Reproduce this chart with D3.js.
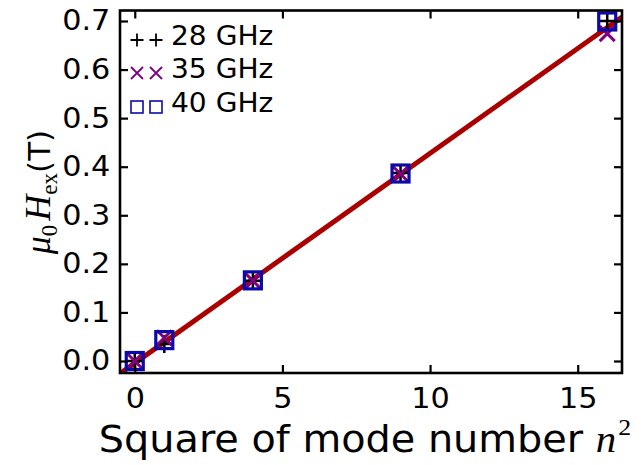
<!DOCTYPE html>
<html><head><meta charset="utf-8">
<script src="https://cdn.jsdelivr.net/npm/d3@7"></script>
<style>body{margin:0;background:#fff}svg{display:block}</style>
</head><body>
<svg id="c" width="643" height="465"></svg>
<script>
const nSquared = [0, 1, 4, 9, 16];
const h28 = [0.0, 0.035, 0.165, 0.387, 0.700];
const h35 = [0.0, 0.048, 0.165, 0.385, 0.674];
const h40 = [0.0, 0.043, 0.166, 0.386, 0.699];
const fitSlope = [0.0432];
const fitIntercept = [-0.0045];
const xTicks = [0, 5, 10, 15];
const yTicks = [0.0, 0.1, 0.2, 0.3, 0.4, 0.5, 0.6, 0.7];
const seriesNames = ["28 GHz", "35 GHz", "40 GHz"];

const svg = d3.select("#c");
const L = 120, R = 622, T = 10.5, B = 373;
const x = d3.scaleLinear().domain([-0.5, 16.5]).range([L, R]);
const y = d3.scaleLinear().domain([-0.0247, 0.7216]).range([B, T]);
const font = "DejaVu Sans";

// fit line
svg.append("clipPath").attr("id","cl").append("rect")
  .attr("x",L).attr("y",T).attr("width",R-L).attr("height",B-T);
const xd = x.domain();
svg.append("line").attr("clip-path","url(#cl)")
  .attr("x1", x(xd[0])).attr("y1", y(fitSlope[0]*xd[0]+fitIntercept[0]))
  .attr("x2", x(xd[1])).attr("y2", y(fitSlope[0]*xd[1]+fitIntercept[0]))
  .attr("stroke","#aa0000").attr("stroke-width",5);

function plus(g, cx, cy, s, col, w){
  g.append("path").attr("d",`M${cx-s/2},${cy}H${cx+s/2}M${cx},${cy-s/2}V${cy+s/2}`)
   .attr("stroke",col).attr("stroke-width",w).attr("fill","none");
}
function cross(g, cx, cy, s, col, w){
  g.append("path").attr("d",`M${cx-s/2},${cy-s/2}L${cx+s/2},${cy+s/2}M${cx-s/2},${cy+s/2}L${cx+s/2},${cy-s/2}`)
   .attr("stroke",col).attr("stroke-width",w).attr("fill","none");
}
function square(g, cx, cy, s, col, w){
  g.append("rect").attr("x",cx-s/2).attr("y",cy-s/2).attr("width",s).attr("height",s)
   .attr("stroke",col).attr("stroke-width",w).attr("fill","none");
}
const cols = ["#000000", "#800080", "#0a0aaa"];
const gm = svg.append("g");
nSquared.forEach((n,i)=> plus(gm, x(n), y(h28[i]), 18, cols[0], 2.5));
nSquared.forEach((n,i)=> cross(gm, x(n), y(h35[i]), 15, cols[1], 3));
nSquared.forEach((n,i)=> square(gm, x(n), y(h40[i]), 17, cols[2], 3.2));

// axes frame
const ga = svg.append("g");
ga.append("g").attr("transform",`translate(0,${B})`)
  .call(d3.axisBottom(x).tickValues(xTicks).tickSizeInner(-8).tickSizeOuter(0).tickPadding(15).tickFormat(d3.format("d")));
ga.append("g").attr("transform",`translate(0,${T})`)
  .call(d3.axisTop(x).tickValues(xTicks).tickSizeInner(-8).tickSizeOuter(0).tickFormat(""));
ga.append("g").attr("transform",`translate(${L},0)`)
  .call(d3.axisLeft(y).tickValues(yTicks).tickSizeInner(-8).tickSizeOuter(0).tickPadding(9).tickFormat(d3.format(".1f")));
ga.append("g").attr("transform",`translate(${R},0)`)
  .call(d3.axisRight(y).tickValues(yTicks).tickSizeInner(-8).tickSizeOuter(0).tickFormat(""));
ga.selectAll(".domain").remove();
ga.selectAll(".tick line").attr("stroke","#000").attr("stroke-width",2.2);
ga.selectAll("text").attr("font-family",font).attr("font-size",28).attr("fill","#000")
  .attr("transform","scale(1.08,1)");
svg.append("rect").attr("x",L).attr("y",T).attr("width",R-L).attr("height",B-T)
  .attr("fill","none").attr("stroke","#000").attr("stroke-width",2.6);

// legend
const lg = svg.append("g");
const ly = [40, 73, 107];
const lx = [137, 156];
lx.forEach(px=>plus(lg, px, ly[0], 13, cols[0], 1.8));
lx.forEach(px=>cross(lg, px, ly[1], 12, cols[1], 1.8));
lx.forEach(px=>square(lg, px, ly[2], 12, cols[2], 1.6));
seriesNames.forEach((s,i)=> lg.append("text").attr("transform",`translate(171,${ly[i]+5}) scale(1.06,1)`)
  .attr("font-family",font).attr("font-size",26.5).text(s));

// x label
const xl = svg.append("text").attr("transform","translate(365,452) scale(1.075,1)").attr("text-anchor","middle")
  .attr("font-family",font).attr("font-size",37);
xl.append("tspan").text("Square of mode number ");
xl.append("tspan").attr("font-family","Liberation Serif").attr("font-style","italic").attr("font-size",38).text("n");
xl.append("tspan").attr("font-family","Liberation Serif").attr("font-size",24).attr("dy",-17).attr("dx",2).text("2");

// y label
const ylab = svg.append("text").attr("transform","translate(50,192) rotate(-90)").attr("text-anchor","middle")
  .attr("font-family","Liberation Serif").attr("font-size",36);
ylab.append("tspan").attr("font-style","italic").text("μ");
ylab.append("tspan").attr("font-size",23).attr("dy",7).text("0");
ylab.append("tspan").attr("font-style","italic").attr("dy",-7).attr("dx",4).text("H");
ylab.append("tspan").attr("font-size",23).attr("dy",7).text("ex");
ylab.append("tspan").attr("font-family",font).attr("font-size",31).attr("dy",-7).text("(T)");
</script>
</body></html>
